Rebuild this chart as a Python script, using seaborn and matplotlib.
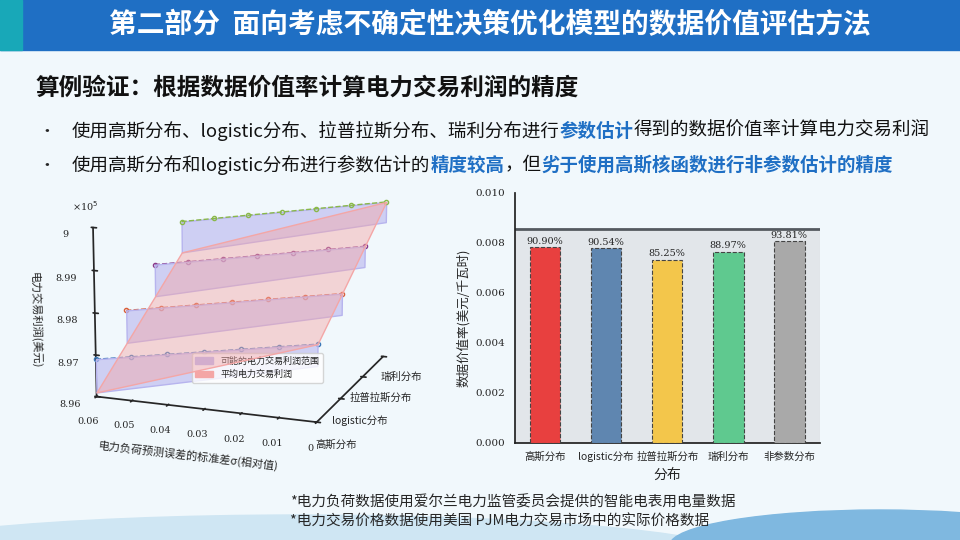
import matplotlib
matplotlib.use("Agg")
import matplotlib.pyplot as plt
import numpy as np
import pandas as pd
import seaborn as sns
from matplotlib.patches import Rectangle, Ellipse, Patch
from mpl_toolkits.mplot3d.art3d import Poly3DCollection

sns.set_theme(style="white")
plt.rcParams["font.family"] = ["Noto Sans CJK SC", "DejaVu Sans"]

# ---- data ----
dists = ["高斯分布", "logistic分布", "拉普拉斯分布", "瑞利分布", "非参数分布"]
value_rate = [0.00782, 0.00778, 0.00733, 0.00765, 0.00806]
accuracy = ["90.90%", "90.54%", "85.25%", "88.97%", "93.81%"]
true_rate = 0.00855
bar_colors = ["#e8403f", "#5f86b0", "#f3c64b", "#5fc98f", "#a9a9a9"]

sigma = [0.06, 0.05, 0.04, 0.03, 0.02, 0.01, 0.0]
dist3d = ["高斯分布", "logistic分布", "拉普拉斯分布", "瑞利分布"]
profit_mean = {
    "高斯分布": [8.9690, 8.9705, 8.9720, 8.9735, 8.9750, 8.9765, 8.9780],
    "logistic分布": [8.9760, 8.9775, 8.9790, 8.9805, 8.9820, 8.9835, 8.9850],
    "拉普拉斯分布": [8.9830, 8.9845, 8.9860, 8.9875, 8.9890, 8.9905, 8.9920],
    "瑞利分布": [8.9900, 8.9915, 8.9930, 8.9945, 8.9960, 8.9975, 8.9990],
}
profit_low = {
    "高斯分布": [8.9610, 8.9630, 8.9650, 8.9670, 8.9690, 8.9710, 8.9730],
    "logistic分布": [8.9680, 8.9700, 8.9720, 8.9740, 8.9760, 8.9780, 8.9800],
    "拉普拉斯分布": [8.9750, 8.9770, 8.9790, 8.9810, 8.9830, 8.9850, 8.9870],
    "瑞利分布": [8.9820, 8.9840, 8.9860, 8.9880, 8.9900, 8.9920, 8.9940],
}
line_colors = ["#3a78b8", "#d95f3a", "#8a3a8a", "#8ab84a"]

fig = plt.figure(figsize=(9.6, 5.4), dpi=100)
fig.patch.set_facecolor("#f1f8fc")

bg = fig.add_axes([0, 0, 1, 1], zorder=-5)
bg.set_xlim(0, 960); bg.set_ylim(540, 0); bg.axis("off")
bg.add_patch(Ellipse((300, 560), 900, 90, color="#cfe6f3", zorder=0))
bg.add_patch(Ellipse((880, 545), 420, 70, color="#7fb8e0", zorder=0))
bg.add_patch(Rectangle((0, 0), 960, 50, color="#1f6fc4", zorder=1))
bg.add_patch(Rectangle((0, 0), 22, 50, color="#18a8b8", zorder=2))
bg.text(490, 25, "第二部分  面向考虑不确定性决策优化模型的数据价值评估方法", color="white",
        fontsize=20, fontweight="bold", ha="center", va="center", zorder=3)
bg.text(36, 88, "算例验证：根据数据价值率计算电力交易利润的精度", fontsize=17,
        fontweight="bold", va="center", color="#111111")


def rich(x, y, parts, size=13.3):
    fig.canvas.draw()
    r = fig.canvas.get_renderer()
    for txt, blue in parts:
        t = bg.text(x, y, txt, fontsize=size, va="center",
                    color="#1f6fc4" if blue else "#111111",
                    fontweight="bold" if blue else "normal")
        x += t.get_window_extent(r).width


bg.text(38, 131, "•", fontsize=12, va="center")
bg.text(38, 165, "•", fontsize=12, va="center")
rich(72, 131, [("使用高斯分布、logistic分布、拉普拉斯分布、瑞利分布进行", False),
               ("参数估计", True), ("得到的数据价值率计算电力交易利润", False)])
rich(72, 165, [("使用高斯分布和logistic分布进行参数估计的", False), ("精度较高", True),
               ("，但", False), ("劣于使用高斯核函数进行非参数估计的精度", True)])
bg.text(290, 502, "*电力负荷数据使用爱尔兰电力监管委员会提供的智能电表用电量数据",
        fontsize=10.5, style="italic", va="center")
bg.text(290, 522, "*电力交易价格数据使用美国 PJM电力交易市场中的实际价格数据",
        fontsize=10.5, style="italic", va="center")

# ---- bar chart ----
ax = fig.add_axes([0.536, 0.18, 0.318, 0.463])
ax.set_facecolor((1, 1, 1, 0))
df = pd.DataFrame({"dist": dists, "rate": value_rate})
sns.barplot(data=df, x="dist", y="rate", hue="dist", palette=bar_colors,
            legend=False, width=0.5, saturation=1, ax=ax, zorder=3)
for p, acc in zip(ax.patches, accuracy):
    p.set_edgecolor("#444444"); p.set_linestyle("--"); p.set_linewidth(0.8)
    ax.text(p.get_x() + p.get_width() / 2, p.get_height() + 0.00005, acc,
            ha="center", va="bottom", fontsize=7, family="DejaVu Serif")
ax.axhspan(0, true_rate, color="#dcdfe3", alpha=0.7, zorder=1)
ax.axhline(true_rate, color="#555a60", lw=2, zorder=2)
ax.set_ylim(0, 0.010)
ticks = np.arange(0, 0.0101, 0.002)
ax.set_yticks(ticks)
ax.set_yticklabels([f"{v:.3f}" for v in ticks], fontsize=7.5, family="DejaVu Serif")
ax.tick_params(axis="x", labelsize=7.5, length=3)
ax.tick_params(axis="y", length=3)
ax.set_xlabel("分布", fontsize=10)
ax.set_ylabel("数据价值率(美元/千瓦时)", fontsize=9)
for s in ["top", "right"]:
    ax.spines[s].set_visible(False)
for s in ["left", "bottom"]:
    ax.spines[s].set_color("#222222")

# ---- 3D chart ----
ax3 = fig.add_axes([0.0, 0.12, 0.5, 0.65], projection="3d")
ax3.set_facecolor((1, 1, 1, 0))
for a in (ax3.xaxis, ax3.yaxis, ax3.zaxis):
    a.set_pane_color((1, 1, 1, 0))
for i, d in enumerate(dist3d):
    z = profit_mean[d]
    yy = [i] * len(sigma)
    verts = list(zip(sigma, yy, profit_low[d])) + list(zip(sigma[::-1], yy, z[::-1]))
    ax3.add_collection3d(Poly3DCollection([verts], color="#b7b4ee", alpha=0.6))
    ax3.plot(sigma, yy, z, "--o", color=line_colors[i], ms=3, mfc="none", lw=1)
pink = [(0.06, 0, profit_low["高斯分布"][0]), (0.0, 0, profit_mean["高斯分布"][-1]),
        (0.0, 3, profit_mean["瑞利分布"][-1]), (0.06, 3, profit_low["瑞利分布"][0])]
ax3.add_collection3d(Poly3DCollection([pink], color="#f4a6a6", alpha=0.45))
ax3.set_xlim(0, 0.06); ax3.set_ylim(3, 0); ax3.set_zlim(8.96, 9.0)
ax3.set_xticks(sigma[::-1])
ax3.set_xticklabels(["0", "0.01", "0.02", "0.03", "0.04", "0.05", "0.06"],
                    family="DejaVu Serif", fontsize=7)
ax3.set_yticks(range(4)); ax3.set_yticklabels(dist3d, fontsize=7.5)
ax3.set_zticks([8.96, 8.97, 8.98, 8.99, 9.0])
ax3.set_zticklabels(["8.96", "8.97", "8.98", "8.99", "9"], family="DejaVu Serif", fontsize=7)
ax3.set_xlabel("电力负荷预测误差的标准差σ(相对值)", fontsize=8)
ax3.set_zlabel("电力交易利润(美元)", fontsize=8)
ax3.view_init(elev=15, azim=110)
ax3.zaxis.set_ticks_position("lower")
ax3.zaxis.set_label_position("lower")
ax3.grid(False)
ax3.legend(handles=[Patch(color="#b7b4ee", label="可能的电力交易利润范围"),
                    Patch(color="#f4a6a6", label="平均电力交易利润")],
           loc="lower center", bbox_to_anchor=(0.55, 0.25), fontsize=6.5, frameon=True)
fig.text(0.075, 0.61, "×10$^5$", fontsize=7, family="DejaVu Serif")

fig.savefig("out.png", dpi=100)
